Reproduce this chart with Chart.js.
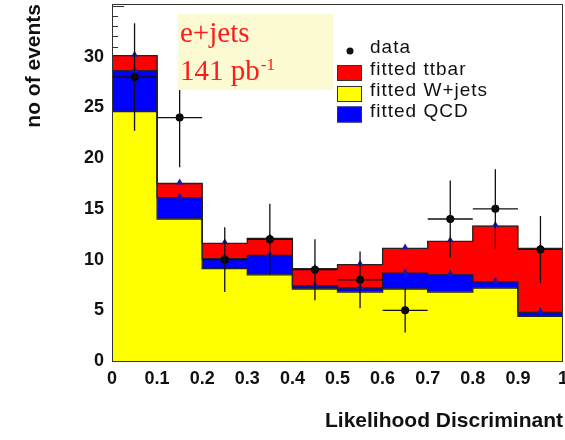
<!DOCTYPE html>
<html>
<head>
<meta charset="utf-8">
<title>Likelihood Discriminant</title>
<script src="https://cdn.jsdelivr.net/npm/chart.js@4.4.0/dist/chart.umd.min.js"></script>
<style>
  html, body { margin: 0; padding: 0; background: #fff; }
  canvas { display: block; }
</style>
</head>
<body>
<canvas id="ldChart" width="565" height="440"></canvas>
<script>
// bin centres of the likelihood discriminant (bins of width 0.1)
const binCenters = [0.05, 0.15, 0.25, 0.35, 0.45, 0.55, 0.65, 0.75, 0.85, 0.95];
const binHalfWidth = 0.05;

// observed events per bin and their errors
const dataCounts = [28, 24, 10, 12, 9, 8, 5, 14, 15, 11];
const dataErrors = [5.3, 4.9, 3.2, 3.5, 3.0, 2.8, 2.2, 3.8, 3.9, 3.3];

// fitted contributions, stacked W+jets -> QCD -> ttbar
const fittedWjets = [24.6, 14.0, 9.1, 8.5, 7.1, 6.8, 7.1, 6.8, 7.2, 4.4];
const fittedQCD   = [4.0, 2.1, 1.0, 1.9, 0.3, 0.4, 1.55, 1.7, 0.6, 0.4];
const fittedTtbar = [1.5, 1.4, 1.5, 1.7, 1.7, 2.3, 2.45, 3.3, 5.5, 6.3];

const xTickLabels = ['0', '0.1', '0.2', '0.3', '0.4', '0.5', '0.6', '0.7', '0.8', '0.9', '1'];
const yTickLabels = ['0', '5', '10', '15', '20', '25', '30'];

const SANS = '"Liberation Sans", Arial, Helvetica, sans-serif';
const SERIF = '"Liberation Serif", "Times New Roman", serif';

function points(values) {
    return values.map((v, i) => ({ x: binCenters[i], y: v }));
}

// ROOT-style decorations: frame, inner ticks, step outlines, error bars, legend, label box
const histDecor = {
    id: 'histDecor',
    beforeDatasetsDraw(chart) {
        const { ctx, chartArea: a, scales: { y } } = chart;
        ctx.save();
        ctx.strokeStyle = '#333';
        ctx.lineWidth = 1;
        ctx.beginPath();
        for (let v = 0; v <= y.max; v++) {
            const py = Math.round(y.getPixelForValue(v)) + 0.5;
            const len = v % 5 === 0 ? 12 : 6;
            ctx.moveTo(a.left, py);
            ctx.lineTo(a.left + len, py);
        }
        ctx.stroke();
        ctx.restore();
    },
    beforeDatasetDraw(chart, args) {
        if (args.index !== 0) return;
        const ctx = chart.ctx;
        ctx.save();
        // step outline on top of each stacked histogram
        [1, 2, 3].forEach(di => {
            const meta = chart.getDatasetMeta(di);
            ctx.beginPath();
            meta.data.forEach((bar, k) => {
                const { x, y, width } = bar.getProps(['x', 'y', 'width'], true);
                const l = x - width / 2, r = x + width / 2;
                if (k === 0) ctx.moveTo(l, y); else ctx.lineTo(l, y);
                ctx.lineTo(r, y);
            });
            ctx.strokeStyle = '#222';
            ctx.lineWidth = 1.3;
            ctx.stroke();
        });
        // small markers at the bin centre of the QCD and ttbar levels
        ctx.fillStyle = '#1a1aa8';
        [2, 3].forEach(di => {
            chart.getDatasetMeta(di).data.forEach(bar => {
                const { x, y } = bar.getProps(['x', 'y'], true);
                ctx.beginPath();
                ctx.moveTo(x - 3.5, y + 1);
                ctx.lineTo(x + 3.5, y + 1);
                ctx.lineTo(x, y - 5);
                ctx.closePath();
                ctx.fill();
            });
        });
        ctx.restore();
    },
    afterDatasetsDraw(chart) {
        const { ctx, chartArea: a, scales: { x, y } } = chart;
        ctx.save();

        // error bars on the data points
        ctx.strokeStyle = '#111';
        ctx.lineWidth = 1.3;
        ctx.beginPath();
        dataCounts.forEach((n, i) => {
            const px = x.getPixelForValue(binCenters[i]);
            const py = y.getPixelForValue(n);
            ctx.moveTo(px, y.getPixelForValue(n + dataErrors[i]));
            ctx.lineTo(px, y.getPixelForValue(n - dataErrors[i]));
            ctx.moveTo(x.getPixelForValue(binCenters[i] - binHalfWidth), py);
            ctx.lineTo(x.getPixelForValue(binCenters[i] + binHalfWidth), py);
        });
        ctx.stroke();

        // frame
        ctx.strokeStyle = '#333';
        ctx.lineWidth = 1;
        ctx.strokeRect(a.left + 0.5, a.top + 0.5, a.right - a.left - 1, a.bottom - a.top);

        // channel / luminosity label
        ctx.fillStyle = '#fcfad3';
        ctx.fillRect(178, 14, 155, 76);
        ctx.fillStyle = '#ff1a1a';
        ctx.textBaseline = 'alphabetic';
        ctx.textAlign = 'left';
        ctx.font = '29px ' + SERIF;
        ctx.fillText('e+jets', 180, 42);
        ctx.fillText('141 pb', 180, 80);
        const pbW = ctx.measureText('141 pb').width;
        ctx.font = '17px ' + SERIF;
        ctx.fillText('-1', 181 + pbW, 70);

        // legend
        const ds = chart.data.datasets;
        ctx.font = '19px ' + SANS;
        ctx.letterSpacing = '1px';
        ctx.fillStyle = '#111';
        ctx.beginPath();
        ctx.arc(350, 51, 3.5, 0, Math.PI * 2);
        ctx.fill();
        ctx.fillText(ds[0].label, 370, 53);
        const boxes = [[ds[3], 75], [ds[1], 96], [ds[2], 116.5]];
        boxes.forEach(([d, base]) => {
            ctx.fillStyle = d.backgroundColor;
            ctx.fillRect(337, base - 10, 25, 16);
            ctx.strokeStyle = '#333';
            ctx.lineWidth = 1;
            ctx.strokeRect(337.5, base - 9.5, 24, 15);
            ctx.fillStyle = '#111';
            ctx.fillText(d.label, 370, base);
        });
        ctx.restore();
    }
};

new Chart(document.getElementById('ldChart'), {
    type: 'bar',
    data: {
        datasets: [
            {
                type: 'line',
                label: 'data',
                data: points(dataCounts),
                stack: 'observed',
                showLine: false,
                pointRadius: 4,
                pointBackgroundColor: '#000',
                pointBorderWidth: 0,
                borderColor: '#000'
            },
            {
                label: 'fitted W+jets',
                data: points(fittedWjets),
                backgroundColor: '#ffff00',
                stack: 'fit'
            },
            {
                label: 'fitted QCD',
                data: points(fittedQCD),
                backgroundColor: '#0000ff',
                stack: 'fit'
            },
            {
                label: 'fitted ttbar',
                data: points(fittedTtbar),
                backgroundColor: '#ff0000',
                stack: 'fit'
            }
        ]
    },
    options: {
        responsive: false,
        animation: false,
        devicePixelRatio: 1,
        layout: { autoPadding: false, padding: { top: 4, right: 2, left: 0, bottom: 0 } },
        datasets: {
            bar: { barPercentage: 1, categoryPercentage: 1, borderWidth: 0 }
        },
        plugins: {
            legend: { display: false },
            tooltip: { enabled: false }
        },
        scales: {
            x: {
                type: 'linear',
                min: 0,
                max: 1,
                offset: false,
                grid: { display: false, drawTicks: false },
                border: { display: false },
                ticks: {
                    stepSize: 0.1,
                    autoSkip: false,
                    maxRotation: 0,
                    padding: 7,
                    color: '#111',
                    font: { family: SANS, size: 18, weight: 'bold' },
                    callback: (v, i) => xTickLabels[i]
                },
                title: {
                    display: true,
                    text: 'Likelihood Discriminant',
                    align: 'end',
                    color: '#111',
                    font: { family: SANS, size: 21, weight: 'bold' },
                    padding: { top: 0, bottom: 6 }
                },
                afterFit: s => {
                    s.height = 79;
                    s.paddingLeft = 0;
                    s.paddingRight = 0;
                }
            },
            y: {
                stacked: true,
                min: 0,
                max: 35.2,
                grid: { display: false, drawTicks: false },
                border: { display: false },
                ticks: {
                    stepSize: 5,
                    padding: 8,
                    color: '#111',
                    font: { family: SANS, size: 18, weight: 'bold' },
                    callback: (v, i) => yTickLabels[i] ?? ''
                },
                title: {
                    display: true,
                    text: 'no of events',
                    align: 'end',
                    color: '#111',
                    font: { family: SANS, size: 21, weight: 'bold' },
                    padding: { top: 22, bottom: 0 }
                },
                afterFit: s => {
                    s.width = 112;
                    s.paddingTop = 0;
                    s.paddingBottom = 0;
                }
            }
        }
    },
    plugins: [histDecor]
});
</script>
</body>
</html>
